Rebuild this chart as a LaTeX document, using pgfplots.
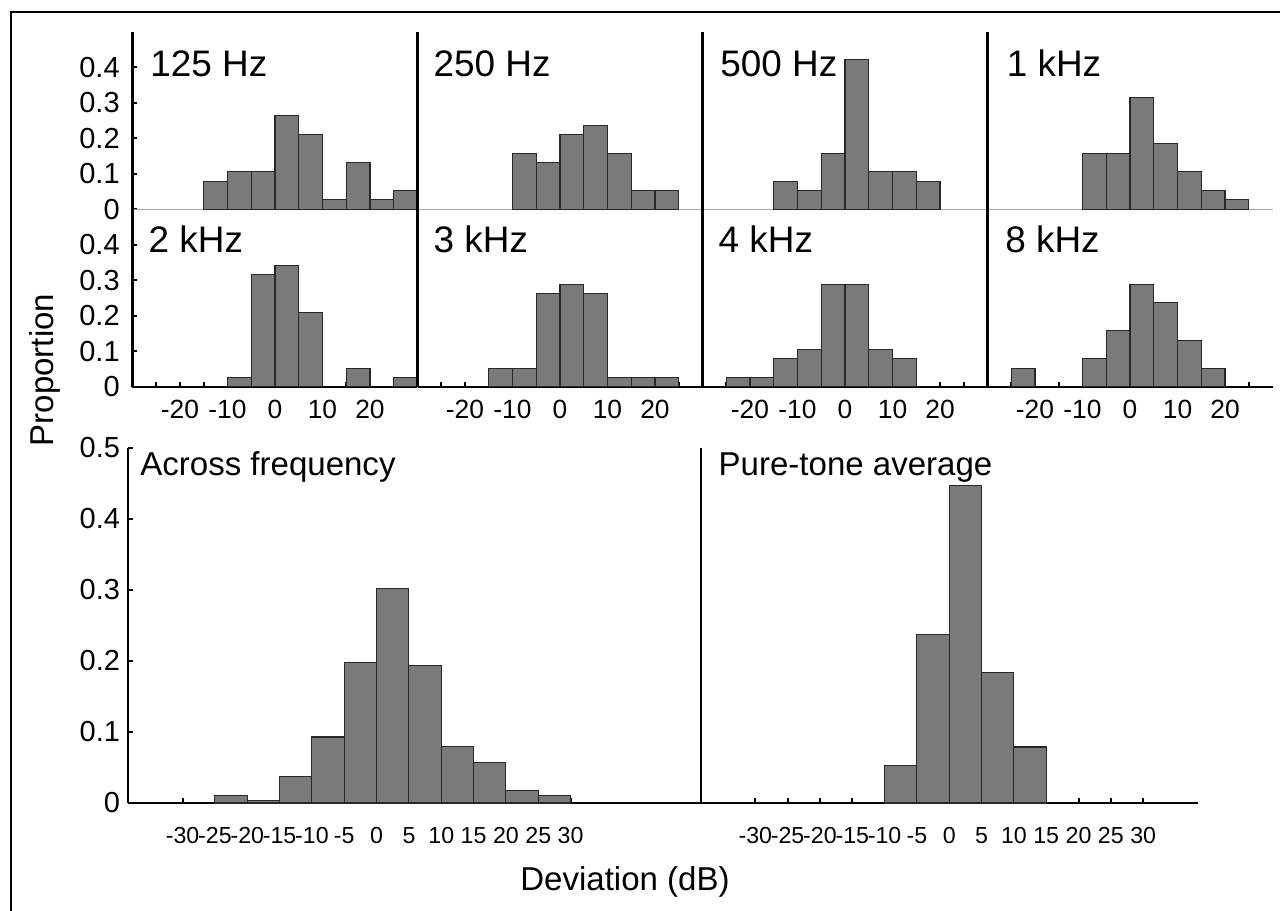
\documentclass[border=0pt]{standalone}
\usepackage{fontspec}
\setmainfont{Liberation Sans}
\usepackage{pgfplots}
\pgfplotsset{compat=1.18}

\definecolor{bargray}{RGB}{122,122,122}
\definecolor{baredge}{RGB}{40,40,40}

\newcommand{\ttlfont}{\fontsize{21}{24}\selectfont}
\newcommand{\labfont}{\fontsize{18.8}{22}\selectfont}
\newcommand{\yfont}{\fontsize{16.5}{19}\selectfont}
\newcommand{\xfont}{\fontsize{15}{17}\selectfont}
\newcommand{\bxfont}{\fontsize{13.2}{15}\selectfont}

\pgfplotsset{
  hist/.style={ybar, bar width=5, bar shift=0pt, fill=bargray, draw=baredge, line width=0.6pt},
  panel/.style={
    scale only axis, anchor=south west,
    ymin=0, ymax=0.5,
    axis lines*=left,
    axis line style={-, black, line width=1.3pt},
    tick align=inside, major tick length=1mm,
    every tick/.style={black, line width=1.1pt},
    yticklabel style={font=\yfont, anchor=east, inner sep=0pt, xshift=-3mm},
    xticklabel style={font=\xfont, anchor=north, inner sep=0pt, yshift=-2.6mm},
  },
  freqpanel/.style={panel, width=57mm, height=35.5mm, xmin=-30, xmax=30, ytick=\empty},
  toprow/.style={freqpanel, xtick=\empty, x axis line style={gray!70, line width=0.5pt}},
  midrow/.style={freqpanel, xtick={-25,-20,...,25}, xticklabels={,-20,,-10,,0,,10,,20,}},
  leftcol/.style={ytick={0,0.1,0.2,0.3,0.4}, yticklabels={0,0.1,0.2,0.3,0.4},
    yticklabel style={xshift=0.5mm}},
  bigpanel/.style={panel, height=71mm, xmin=-38.4, ytick=\empty,
    xtick={-30,-25,...,30},
    xticklabels={-30,-25,-20,-15,-10,-5,0,5,10,15,20,25,30},
    xticklabel style={font=\bxfont, yshift=-2.2mm}},
}

\begin{document}
\begin{tikzpicture}
\useasboundingbox (0,0) rectangle (256mm,-182.2mm);
\draw[line width=1.1pt] (2.2mm,-182.2mm) -- (2.2mm,-2.4mm) -- (256mm,-2.4mm);

% top row: 125 Hz, 250 Hz, 500 Hz, 1 kHz
\begin{axis}[toprow, leftcol, at={(26.5mm,-41.86mm)}]
\addplot[hist] coordinates {(-12.5,0.0789) (-7.5,0.1053) (-2.5,0.1053) (2.5,0.2632) (7.5,0.2105) (12.5,0.0263) (17.5,0.1316) (22.5,0.0263) (27.5,0.0526)};
\end{axis}
\begin{axis}[toprow, at={(83.5mm,-41.86mm)}]
\addplot[hist] coordinates {(-7.5,0.1579) (-2.5,0.1316) (2.5,0.2105) (7.5,0.2368) (12.5,0.1579) (17.5,0.0526) (22.5,0.0526)};
\end{axis}
\begin{axis}[toprow, at={(140.5mm,-41.86mm)}]
\addplot[hist] coordinates {(-12.5,0.0789) (-7.5,0.0526) (-2.5,0.1579) (2.5,0.4211) (7.5,0.1053) (12.5,0.1053) (17.5,0.0789)};
\end{axis}
\begin{axis}[toprow, at={(197.5mm,-41.86mm)}]
\addplot[hist] coordinates {(-7.5,0.1579) (-2.5,0.1579) (2.5,0.3158) (7.5,0.1842) (12.5,0.1053) (17.5,0.0526) (22.5,0.0263)};
\end{axis}

% second row: 2, 3, 4, 8 kHz
\begin{axis}[midrow, leftcol, at={(26.5mm,-77.36mm)}]
\addplot[hist] coordinates {(-7.5,0.0263) (-2.5,0.3158) (2.5,0.3421) (7.5,0.2105) (17.5,0.0526) (27.5,0.0263)};
\end{axis}
\begin{axis}[midrow, at={(83.5mm,-77.36mm)}]
\addplot[hist] coordinates {(-12.5,0.0526) (-7.5,0.0526) (-2.5,0.2632) (2.5,0.2895) (7.5,0.2632) (12.5,0.0263) (17.5,0.0263) (22.5,0.0263)};
\end{axis}
\begin{axis}[midrow, at={(140.5mm,-77.36mm)}]
\addplot[hist] coordinates {(-22.5,0.0263) (-17.5,0.0263) (-12.5,0.0789) (-7.5,0.1053) (-2.5,0.2895) (2.5,0.2895) (7.5,0.1053) (12.5,0.0789)};
\end{axis}
\begin{axis}[midrow, at={(197.5mm,-77.36mm)}]
\addplot[hist] coordinates {(-22.5,0.0526) (-7.5,0.0789) (-2.5,0.1579) (2.5,0.2895) (7.5,0.2368) (12.5,0.1316) (17.5,0.0526)};
\end{axis}

% bottom: across frequency, pure-tone average
\begin{axis}[bigpanel, at={(25.66mm,-160.6mm)}, width=114.54mm, xmax=50.16,
  ytick={0,0.1,...,0.5}, yticklabels={0,0.1,0.2,0.3,0.4,0.5},
  yticklabel style={xshift=1.4mm}]
\addplot[hist] coordinates {(-22.5,0.010) (-17.5,0.004) (-12.5,0.037) (-7.5,0.093) (-2.5,0.198) (2.5,0.302) (7.5,0.194) (12.5,0.079) (17.5,0.057) (22.5,0.017) (27.5,0.010)};
\end{axis}
\begin{axis}[bigpanel, at={(140.2mm,-160.6mm)}, width=99.3mm, xmax=38.4]
\addplot[hist] coordinates {(-7.5,0.0526) (-2.5,0.2368) (2.5,0.4474) (7.5,0.1842) (12.5,0.0789)};
\end{axis}

% panel titles
\begin{scope}[every node/.style={anchor=base west, inner sep=0pt, font=\ttlfont}]
\node at (30.0mm,-15.4mm) {125 Hz};
\node at (86.67mm,-15.4mm) {250 Hz};
\node at (144.0mm,-15.4mm) {500 Hz};
\node at (201.3mm,-15.4mm) {1 kHz};
\node at (29.67mm,-50.6mm) {2 kHz};
\node at (86.67mm,-50.6mm) {3 kHz};
\node at (143.67mm,-50.6mm) {4 kHz};
\node at (201.0mm,-50.6mm) {8 kHz};
\end{scope}
\begin{scope}[every node/.style={anchor=base west, inner sep=0pt, font=\labfont}]
\node at (28.0mm,-95.0mm) {Across frequency};
\node at (143.67mm,-95.0mm) {Pure-tone average};
\end{scope}

\node[rotate=90, anchor=base, inner sep=0pt, font=\labfont] at (10.6mm,-74.0mm) {Proportion};
\node[anchor=base, inner sep=0pt, font=\labfont] at (125mm,-178.0mm) {Deviation (dB)};
\end{tikzpicture}
\end{document}
